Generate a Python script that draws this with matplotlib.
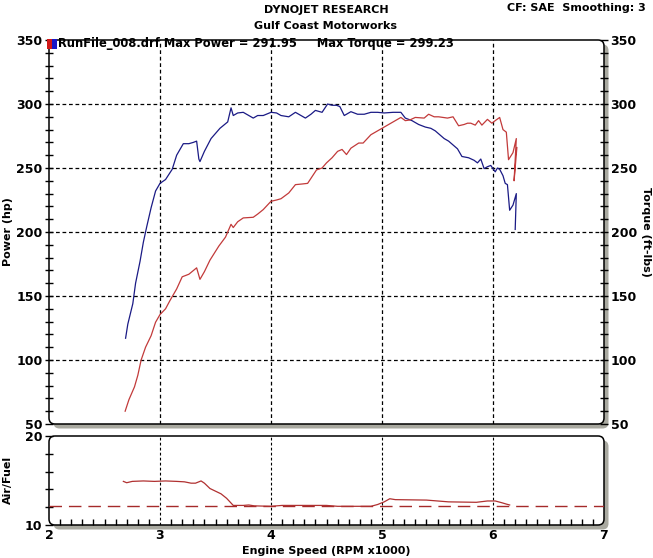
import numpy as np
import matplotlib.pyplot as plt
from matplotlib.patches import FancyBboxPatch, Rectangle
from matplotlib.ticker import MultipleLocator, FixedLocator

# Dyno run data
rpm_hp = [2.69, 2.71, 2.755, 2.78, 2.82, 2.85, 2.88, 2.92, 2.96, 3.00, 3.05, 3.11, 3.15, 3.21,
          3.26, 3.30, 3.33, 3.35, 3.36, 3.40, 3.46, 3.54, 3.61, 3.64, 3.66, 3.70, 3.75, 3.80,
          3.84, 3.88, 3.93, 4.00, 4.05, 4.09, 4.16, 4.22, 4.27, 4.31, 4.36, 4.40, 4.46, 4.51,
          4.55, 4.59, 4.62, 4.66, 4.72, 4.78, 4.84, 4.90, 4.96, 5.02, 5.10, 5.17, 5.21, 5.27,
          5.33, 5.39, 5.44, 5.48, 5.52, 5.56, 5.60, 5.64, 5.68, 5.72, 5.78, 5.83, 5.86, 5.89,
          5.92, 5.95, 5.98, 6.02, 6.04, 6.06, 6.09, 6.11, 6.13, 6.15, 6.18, 6.21, 6.20]
power = [117, 128, 144, 160, 177, 192, 204, 219, 232, 238, 241, 249, 260, 269,
         269, 270, 271, 257, 255, 263, 273, 281, 286, 297, 291, 293, 293.5, 291,
         289, 291, 291, 293.5, 293, 291, 290, 293.5, 291, 289, 292, 295, 293.5, 300,
         299, 299, 298, 291, 294, 292, 292, 293.5, 293.5, 293, 293.5, 293.5, 289, 287,
         284, 282, 281, 279, 276, 273, 271, 268, 265, 259, 258, 256, 254, 257,
         249.5, 251, 252, 247, 250, 249, 244, 238, 237, 217, 221, 230, 202]

rpm_tq = [2.686, 2.72, 2.77, 2.80, 2.83, 2.87, 2.92, 2.96, 3.00, 3.05, 3.09, 3.15, 3.20, 3.26,
          3.33, 3.36, 3.40, 3.45, 3.53, 3.59, 3.64, 3.66, 3.70, 3.75, 3.84, 3.88, 3.93, 4.00,
          4.05, 4.09, 4.16, 4.22, 4.28, 4.33, 4.41, 4.46, 4.50, 4.55, 4.60, 4.64, 4.68, 4.72,
          4.79, 4.83, 4.90, 4.99, 5.08, 5.17, 5.21, 5.25, 5.30, 5.38, 5.42, 5.47, 5.51, 5.55,
          5.59, 5.64, 5.69, 5.74, 5.77, 5.80, 5.84, 5.87, 5.90, 5.95, 5.99, 6.02, 6.06, 6.09,
          6.12, 6.14, 6.18, 6.21, 6.19, 6.215]
torque = [60, 69, 79, 88, 100, 110, 119, 129.5, 135.5, 140, 146.5, 155.5, 165, 167,
          172, 163, 169, 178, 189, 196, 206, 203.5, 208, 211, 211.5, 214, 217.5, 224,
          225, 226, 230.5, 237, 237.5, 238, 248.5, 250, 254, 258, 263, 264.5, 260.5, 265.5,
          269.5, 269.5, 276, 280.5, 285, 289.5, 287, 287.5, 289.5, 289, 292, 290, 290, 289.5,
          289, 290, 283, 284, 285, 285, 283.5, 287, 283.5, 288, 285, 287, 289.5, 280,
          278, 256.5, 262, 273, 240, 266]

rpm_afr = [2.67, 2.70, 2.75, 2.85, 2.95, 3.05, 3.15, 3.22, 3.28, 3.32, 3.37, 3.40, 3.45, 3.50,
           3.55, 3.60, 3.63, 3.66, 3.75, 3.80, 3.85, 4.00, 4.10, 4.30, 4.50, 4.60, 4.90, 4.96,
           5.02, 5.07, 5.12, 5.40, 5.60, 5.85, 5.95, 6.02, 6.08, 6.12, 6.15]
afr = [14.9, 14.75, 14.9, 14.95, 14.9, 14.95, 14.9, 14.85, 14.7, 14.7, 14.95, 14.7, 14.1, 13.8,
       13.5, 13.0, 12.6, 12.2, 12.2, 12.25, 12.15, 12.1, 12.2, 12.2, 12.2, 12.1, 12.1, 12.3,
       12.6, 12.95, 12.85, 12.8, 12.6, 12.55, 12.7, 12.7, 12.5, 12.35, 12.25]
afr_target = 12.1

W, H = 653, 558
fig = plt.figure(figsize=(W / 100, H / 100), dpi=100)
plt.rcParams['font.family'] = 'DejaVu Sans'
plt.rcParams['font.weight'] = 'bold'

def panel(left, top, right, bottom):
    # rounded white box with grey drop shadow, positions in pixels
    x0, y0 = left / 100, (H - bottom) / 100
    w, h = (right - left) / 100, (bottom - top) / 100
    fig.add_artist(FancyBboxPatch((x0 + 0.045, y0 - 0.045), w, h,
                                  boxstyle="round,pad=0,rounding_size=0.06",
                                  transform=fig.dpi_scale_trans, fc='#a9a9a0', ec='none', zorder=-3))
    fig.add_artist(FancyBboxPatch((x0, y0), w, h,
                                  boxstyle="round,pad=0,rounding_size=0.06",
                                  transform=fig.dpi_scale_trans, fc='white', ec='black', lw=1.1, zorder=-2))
    ax = fig.add_axes([left / W, (H - bottom) / H, (right - left) / W, (bottom - top) / H])
    ax.set_facecolor('none')
    for s in ax.spines.values():
        s.set_visible(False)
    return ax

grid_kw = dict(color='black', lw=0.9, ls=(0, (3, 2.2)))

# power / torque panel
ax1 = panel(49, 40, 604, 424)
ax1.set_xlim(2, 7)
ax1.set_ylim(50, 350)
for v in [3, 4, 5, 6]:
    ax1.axvline(v, **grid_kw)
for v in [100, 150, 200, 250, 300]:
    ax1.axhline(v, **grid_kw)
ax1.plot(rpm_hp, power, color='#1a1a85', lw=0.9)
ax1.plot(rpm_tq, torque, color='#c23a3a', lw=0.9)
ax1.yaxis.set_major_locator(MultipleLocator(50))
ax1.yaxis.set_minor_locator(MultipleLocator(10))
ax1.tick_params(axis='x', bottom=False, labelbottom=False)
ax1.tick_params(axis='y', which='both', direction='inout', length=5.5, width=1,
                left=True, right=True, labelleft=True, labelright=True,
                labelsize=9, pad=2)
for lab in ax1.get_yticklabels():
    lab.set_fontweight('bold')

# air/fuel panel
ax2 = panel(49, 436, 604, 525)
ax2.set_xlim(2, 7)
ax2.set_ylim(10, 20)
for v in [3, 4, 5, 6]:
    ax2.axvline(v, color='black', lw=0.8, ls=(0, (2.5, 2)))
ax2.axhline(afr_target, color='#a52a2a', lw=1, ls=(0, (9, 5)))
ax2.plot(rpm_afr, afr, color='#b03030', lw=0.9)
ax2.yaxis.set_major_locator(FixedLocator([10, 20]))
ax2.yaxis.set_minor_locator(FixedLocator([12, 14, 16, 18]))
ax2.xaxis.set_major_locator(MultipleLocator(1))
ax2.xaxis.set_minor_locator(MultipleLocator(0.1))
ax2.tick_params(axis='y', which='both', direction='inout', length=5.5, width=1,
                labelsize=9, pad=2)
ax2.tick_params(axis='x', which='both', direction='in', length=4, width=1,
                labelsize=9, pad=3)
ax2.tick_params(axis='x', which='major', length=0)
for lab in ax2.get_yticklabels() + ax2.get_xticklabels():
    lab.set_fontweight('bold')

# texts
fig.text(326 / W, 1 - 10 / H, 'DYNOJET RESEARCH', ha='center', va='center', fontsize=8, fontweight='bold')
fig.text(326 / W, 1 - 26 / H, 'Gulf Coast Motorworks', ha='center', va='center', fontsize=8, fontweight='bold')
fig.text(646 / W, 1 - 8 / H, 'CF: SAE  Smoothing: 3', ha='right', va='center', fontsize=8, fontweight='bold')
fig.text(58 / W, 1 - 44 / H, 'RunFile_008.drf Max Power = 291.95     Max Torque = 299.23',
         ha='left', va='center', fontsize=8.3, fontweight='bold')
fig.add_artist(Rectangle((47 / W, 1 - 49 / H), 5 / W, 10 / H, transform=fig.transFigure,
                         fc='#d01818', ec='none'))
fig.add_artist(Rectangle((52 / W, 1 - 49 / H), 5 / W, 10 / H, transform=fig.transFigure,
                         fc='#1818c8', ec='none'))
fig.text(8 / W, 1 - 232 / H, 'Power (hp)', rotation=90, ha='center', va='center', fontsize=8, fontweight='bold')
fig.text(646 / W, 1 - 232 / H, 'Torque (ft-lbs)', rotation=270, ha='center', va='center', fontsize=8, fontweight='bold')
fig.text(8 / W, 1 - 480 / H, 'Air/Fuel', rotation=90, ha='center', va='center', fontsize=8, fontweight='bold')
fig.text(326 / W, 1 - 551 / H, 'Engine Speed (RPM x1000)', ha='center', va='center', fontsize=8, fontweight='bold')

plt.savefig('out.png', dpi=100)
